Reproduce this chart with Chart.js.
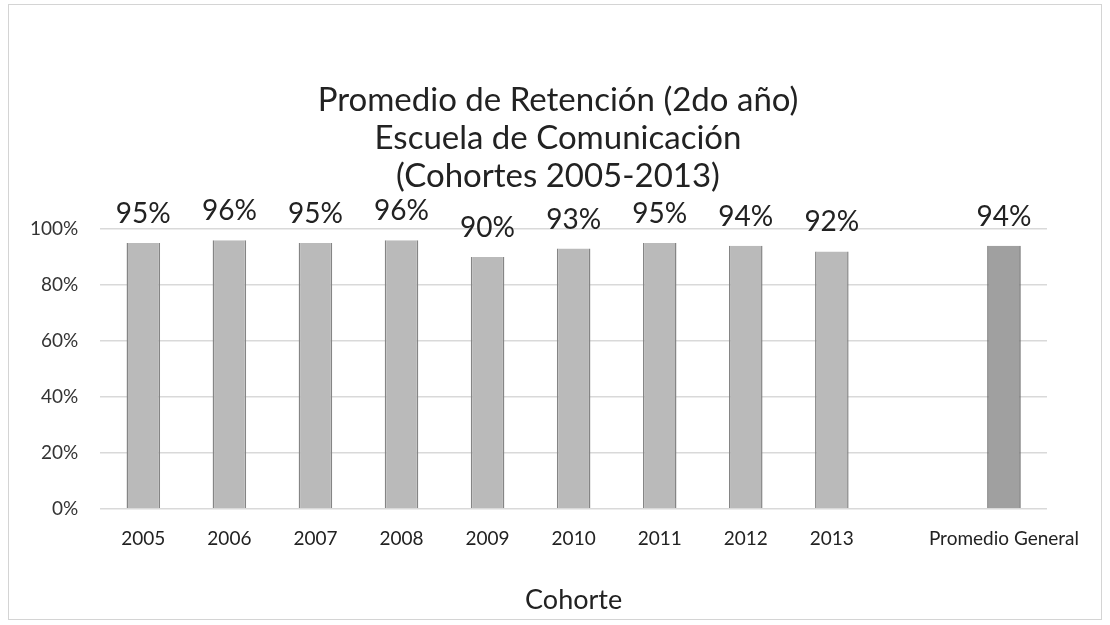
<!DOCTYPE html>
<html><head><meta charset="utf-8">
<script src="https://cdn.jsdelivr.net/npm/chart.js@4"></script>
<style>
html,body{margin:0;padding:0;background:#fff;}
#wrap{position:absolute;left:0;top:0;width:1110px;height:625px;}
#frame{position:absolute;left:8px;top:4px;width:1092px;height:614px;border:1px solid #d4d4d4;pointer-events:none;}
</style></head>
<body>
<div id="wrap"><canvas id="c" width="1110" height="625"></canvas><div id="frame"></div></div>
<script>
const categories = ["2005","2006","2007","2008","2009","2010","2011","2012","2013","","Promedio General"];
const retention = [95,96,95,96,90,93,95,94,92,null,94];
const yTicks = [0,20,40,60,80,100];
const titleLines = ["Promedio de Retención (2do año)","Escuela de Comunicación","(Cohortes 2005-2013)"];
const xTitle = "Cohorte";

const FONT = "Lato, 'Open Sans', sans-serif";
const fills = categories.map(c => c === "Promedio General" ? "#a0a0a0" : "#bababa");
const borders = categories.map(c => c === "Promedio General" ? "#6a6a6a" : "#858585");

const labelPlugin = {
  id: 'valueLabels',
  afterDatasetsDraw(chart) {
    const ctx = chart.ctx;
    const meta = chart.getDatasetMeta(0);
    ctx.save();
    ctx.font = "28px " + FONT;
    ctx.fillStyle = "#222";
    ctx.textAlign = "center";
    ctx.textBaseline = "alphabetic";
    meta.data.forEach((bar, i) => {
      const v = chart.data.datasets[0].data[i];
      if (v == null) return;
      ctx.fillText(v + "%", bar.x, bar.y - 20);
    });
    ctx.restore();
  }
};

const titlePlugin = {
  id: 'centeredTitle',
  afterDraw(chart) {
    const ctx = chart.ctx;
    ctx.save();
    ctx.font = "33px " + FONT;
    ctx.fillStyle = "#222";
    ctx.textAlign = "center";
    ctx.textBaseline = "middle";
    titleLines.forEach((t, i) => ctx.fillText(t, chart.width / 2 + 3, 100 + i * 38));
    ctx.restore();
  }
};

new Chart(document.getElementById('c'), {
  type: 'bar',
  data: {
    labels: categories,
    datasets: [{
      data: retention,
      backgroundColor: fills,
      borderColor: borders,
      borderWidth: {left:1.5,right:1.5,top:0,bottom:0},
      categoryPercentage: 1,
      barPercentage: 0.39
    }]
  },
  options: {
    responsive: false,
    animation: false,
    layout: {padding: {top: 229, left: 8, right: 63, bottom: 9}},
    plugins: {
      legend: {display: false},
      tooltip: {enabled: false},
      title: {display: false}
    },
    scales: {
      x: {
        grid: {display: false, drawTicks: false},
        border: {display: false},
        ticks: {color: "#222", font: {family: FONT, size: 19}, padding: 19, maxRotation: 0, autoSkip: false},
        title: {display: true, text: xTitle, color: "#222", font: {family: FONT, size: 27}, padding: {top: 14, bottom: 0}}
      },
      y: {
        min: 0, max: 100,
        afterBuildTicks(axis) { axis.ticks = yTicks.map(v => ({value: v})); },
        grid: {color: "#d9d9d9", lineWidth: 1.5, drawTicks: false},
        border: {display: false},
        ticks: {color: "#333", font: {family: FONT, size: 19}, padding: 22, callback: v => v + "%"}
      }
    }
  },
  plugins: [labelPlugin, titlePlugin]
});
</script>
</body></html>
